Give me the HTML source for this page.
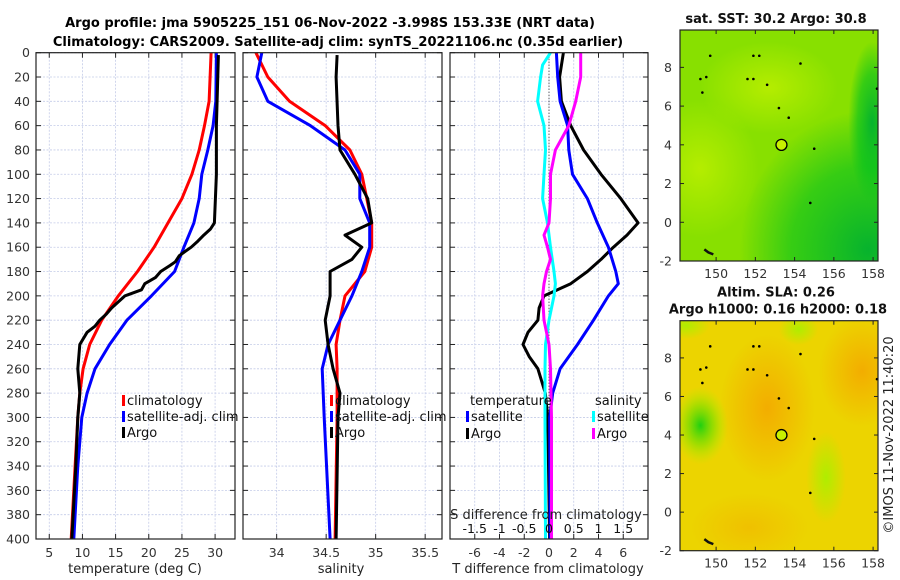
<!DOCTYPE html>
<html><head><meta charset="utf-8">
<style>
body{margin:0;background:#fff;}
svg{display:block;font-family:"DejaVu Sans","Liberation Sans",sans-serif;}
</style></head>
<body>
<svg id="fig" width="900" height="580" viewBox="0 0 900 580">
<defs>
<radialGradient id="gUL" cx="0.5" cy="0.5" r="0.5"><stop offset="0" stop-color="#c0f000" stop-opacity="0.8"/><stop offset="1" stop-color="#c0f000" stop-opacity="0"/></radialGradient>
<radialGradient id="gLR" cx="0.5" cy="0.5" r="0.5"><stop offset="0" stop-color="#00b030" stop-opacity="0.95"/><stop offset="0.6" stop-color="#00c020" stop-opacity="0.6"/><stop offset="1" stop-color="#00c020" stop-opacity="0"/></radialGradient>
<radialGradient id="gOr" cx="0.5" cy="0.5" r="0.5"><stop offset="0" stop-color="#f5a000" stop-opacity="0.75"/><stop offset="1" stop-color="#f5a000" stop-opacity="0"/></radialGradient>
<radialGradient id="gGr" cx="0.5" cy="0.5" r="0.5"><stop offset="0" stop-color="#20d010" stop-opacity="1"/><stop offset="0.5" stop-color="#80e000" stop-opacity="0.7"/><stop offset="1" stop-color="#b0f000" stop-opacity="0"/></radialGradient>
<radialGradient id="gLi" cx="0.5" cy="0.5" r="0.5"><stop offset="0" stop-color="#a8f000" stop-opacity="0.9"/><stop offset="1" stop-color="#a8f000" stop-opacity="0"/></radialGradient>
<clipPath id="clip-sst-map"><rect x="680" y="30" width="198" height="231"/></clipPath>
<clipPath id="clip-sla-map"><rect x="680" y="320.7" width="198" height="230"/></clipPath>
</defs>
<g id="titles" font-weight="bold" font-size="13" text-anchor="middle">
<text x="330" y="27">Argo profile: jma 5905225_151 06-Nov-2022 -3.998S 153.33E (NRT data)</text>
<text x="338" y="46">Climatology: CARS2009. Satellite-adj clim: synTS_20221106.nc (0.35d earlier)</text>
</g>
<g id="layer"></g>
<g id="maps"></g>
<text transform="translate(893,435) rotate(-90)" text-anchor="middle" font-size="13" fill="#222">©IMOS 11-Nov-2022 11:40:20</text>
</svg>
<script>
// ---- data ----
const depthsTclim = [0,40,60,80,100,120,140,160,180,200,220,240,260,280,300,340,400];
const tempClim    = [29.4,29.1,28.4,27.6,26.5,25,22.9,20.8,18.3,15.4,12.9,11.1,10.1,9.6,9.3,8.9,8.3];
const depthsTsat  = [0,40,60,80,100,120,140,160,180,200,220,240,260,280,300,340,400];
const tempSat     = [30.2,30.1,29.7,28.9,28,27.6,26.8,25.3,23.9,20.4,16.7,14.1,11.9,10.7,9.9,9.3,8.7];
const depthsTargo = [2,60,100,140,145,150,155,160,163,167,172,175,180,185,190,195,200,205,210,215,220,225,230,240,260,280,300,340,400];
const tempArgo    = [30.5,30.2,30.2,29.9,29.3,28.3,27.4,26.4,25.6,24.6,24.0,23.2,21.8,21.0,19.4,18.9,16.4,15.4,14.4,13.6,12.6,11.9,10.7,9.6,9.3,9.6,9.3,9,8.4];

const depthsS     = [0,20,40,60,80,100,120,140,160,180,200,220,240,260,300,400];
const salClim     = [33.79,33.91,34.13,34.49,34.74,34.86,34.91,34.96,34.96,34.89,34.69,34.64,34.6,34.61,34.61,34.59];
const salSat      = [33.85,33.8,33.91,34.34,34.69,34.84,34.84,34.94,34.94,34.86,34.76,34.64,34.52,34.46,34.48,34.54];
const depthsSargo = [2,20,60,80,100,120,140,150,160,170,180,200,220,240,260,280,300,400];
const salArgo     = [34.61,34.6,34.62,34.64,34.79,34.92,34.96,34.69,34.86,34.76,34.54,34.54,34.49,34.52,34.57,34.64,34.62,34.6];

const depthsDT    = [0,20,40,60,80,100,120,140,150,160,170,180,190,200,210,220,230,240,250,260,280,300,400];
const dTargo      = [1.16,0.86,1,1.75,2.8,4.2,5.8,7.2,6.3,5.2,4.2,3.1,1.75,-0.4,-0.8,-0.9,-1.7,-2.1,-1.6,-0.9,-0.3,-0.1,0.05];
const depthsDTs   = [0,20,40,60,80,100,120,140,160,180,190,200,220,240,260,280,300,400];
const dTsat       = [0.6,0.7,0.9,1.5,1.6,1.9,3.1,3.9,4.8,5.4,5.6,4.8,3.6,2.3,0.9,0.3,0.06,0.1];
const depthsDS    = [0,10,20,40,60,80,100,120,140,160,180,190,200,220,240,260,300,400];
const dSsat       = [0.03,-0.13,-0.17,-0.23,-0.1,-0.07,-0.1,-0.13,-0.03,0.03,0.1,0.13,0.1,0,-0.07,-0.08,-0.08,-0.07];
const depthsDSa   = [0,20,40,60,80,100,120,140,150,160,170,180,190,200,220,240,260,300,400];
const dSargo      = [0.64,0.64,0.54,0.4,0.13,0.03,0.03,0,-0.1,-0.03,0.03,-0.05,-0.1,-0.13,-0.1,0,0.03,0.05,0.05];

const depthTicks = [0,20,40,60,80,100,120,140,160,180,200,220,240,260,280,300,320,340,360,380,400];
const tTicks = [5,10,15,20,25,30];
const sTicks = [34,34.5,35,35.5];
const dTTicks = [-6,-4,-2,0,2,4,6];
const dSTicks = [-1.5,-1,-0.5,0,0.5,1,1.5];
const lonTicks = [150,152,154,156,158];
const latTicks = [-2,0,2,4,6,8];
const argoPos = [153.33,3.998];

// ---- helpers ----
const NS="http://www.w3.org/2000/svg";
const layer=document.getElementById('layer');
function mk(tag,attrs,parent){const e=document.createElementNS(NS,tag);for(const k in attrs)e.setAttribute(k,attrs[k]);(parent||layer).appendChild(e);return e;}
const Y0=52.7,Y1=539;
const yD=d=>Y0+(d/400)*(Y1-Y0);

function panel(name,x0,x1,vmin,vmax,ticks,showY){
  const sx=v=>x0+(v-vmin)/(vmax-vmin)*(x1-x0);
  const g=mk('g',{});
  
  
  depthTicks.forEach(d=>{
    const l=mk('line',{x1:x0,x2:x1,y1:yD(d),y2:yD(d),stroke:'#c4cbe8','stroke-width':0.8,'stroke-dasharray':'2,1.5'},g);
    
    
    mk('line',{x1:x0,x2:x0+5,y1:yD(d),y2:yD(d),stroke:'#222'},g);
    mk('line',{x1:x1,x2:x1-5,y1:yD(d),y2:yD(d),stroke:'#222'},g);
    if(showY){const t=mk('text',{x:x0-6,y:yD(d)+4.5,'text-anchor':'end','font-size':12.5,fill:'#333'},g);t.textContent=d;
      
      }
  });
  ticks.forEach(v=>{
    const l=mk('line',{x1:sx(v),x2:sx(v),y1:Y0,y2:Y1,stroke:'#c4cbe8','stroke-width':0.8,'stroke-dasharray':'2,1.5'},g);
    
    
    mk('line',{x1:sx(v),x2:sx(v),y1:Y1,y2:Y1-5,stroke:'#222'},g);
    mk('line',{x1:sx(v),x2:sx(v),y1:Y0,y2:Y0+5,stroke:'#222'},g);
  });
  return {g,sx};
}
function axisLabels(p,ticks,y,fmt){
  ticks.forEach(v=>{const t=mk('text',{x:p.sx(v),y:y,'text-anchor':'middle','font-size':12.5,fill:'#333'},p.g);t.textContent=fmt?fmt(v):v;
    
    });
}
function line(p,depths,vals,color,name){
  const pts=depths.map((d,i)=>p.sx(vals[i]).toFixed(1)+','+yD(d).toFixed(1)).join(' ');
  const l=mk('polyline',{points:pts,fill:'none',stroke:color,'stroke-width':3,'stroke-linejoin':'round'},p.g);
  
  
}
function frame(p,x0,x1){mk('rect',{x:x0,y:Y0,width:x1-x0,height:Y1-Y0,fill:'none',stroke:'#222','stroke-width':1.2},p.g);}
function legend(p,x,y,color,label){
  mk('rect',{x:x,y:y-10,width:3,height:11,fill:color},p.g);
  const t=mk('text',{x:x+5,y:y,'font-size':13,fill:'#111'},p.g);t.textContent=label;
  
  
}
function title(x,y,s,name){const t=mk('text',{x:x,y:y,'text-anchor':'middle','font-size':13,fill:'#222'});t.textContent=s;
  
  }

// Panel 1 temperature
const p1=panel('temperature-panel',36,235,3,33,tTicks,true);
line(p1,depthsTclim,tempClim,'#ff0000','temp-climatology-line');
line(p1,depthsTsat,tempSat,'#0000ff','temp-satellite-line');
line(p1,depthsTargo,tempArgo,'#000000','temp-argo-line');
frame(p1,36,235);
axisLabels(p1,tTicks,557);
title(135,573,'temperature (deg C)','temperature-axis-title');
legend(p1,122,405,'#ff0000','climatology');
legend(p1,122,421,'#0000ff','satellite-adj. clim');
legend(p1,122,437,'#000000','Argo');

// Panel 2 salinity
const p2=panel('salinity-panel',243,442,33.66,35.67,sTicks,false);
line(p2,depthsS,salClim,'#ff0000','sal-climatology-line');
line(p2,depthsS,salSat,'#0000ff','sal-satellite-line');
line(p2,depthsSargo,salArgo,'#000000','sal-argo-line');
frame(p2,243,442);
axisLabels(p2,sTicks,557);
title(341,573,'salinity','salinity-axis-title');
legend(p2,330,405,'#ff0000','climatology');
legend(p2,330,421,'#0000ff','satellite-adj. clim');
legend(p2,330,437,'#000000','Argo');

// Panel 3 differences
const p3=panel('difference-panel',450,648,-8,8,dTTicks,false);
const sxS=v=>p3.sx(v*4);
const zl=mk('line',{x1:p3.sx(0),x2:p3.sx(0),y1:Y0,y2:Y1,stroke:'#333','stroke-width':1,'stroke-dasharray':'1,2'},p3.g);


line(p3,depthsDT,dTargo,'#000000','dt-argo-line');
line(p3,depthsDTs,dTsat,'#0000ff','dt-satellite-line');
line(p3,depthsDS,dSsat.map(v=>v*4),'#00ffff','ds-satellite-line');
line(p3,depthsDSa,dSargo.map(v=>v*4),'#ff00ff','ds-argo-line');
frame(p3,450,648);
axisLabels(p3,dTTicks,557);
dSTicks.forEach(v=>{const t=mk('text',{x:sxS(v),y:533,'text-anchor':'middle','font-size':12.5,fill:'#111'},p3.g);t.textContent=v;
  
  });
title(546,519,'S difference from climatology','s-diff-axis-title');
title(548,573,'T difference from climatology','t-diff-axis-title');
{const t=mk('text',{x:470,y:405,'font-size':13,fill:'#111'},p3.g);t.textContent='temperature';
 
 
 const s=mk('text',{x:595,y:405,'font-size':13,fill:'#111'},p3.g);s.textContent='salinity';
 
 }
legend(p3,466,421,'#0000ff','satellite');
legend(p3,466,438,'#000000','Argo');
legend(p3,592,421,'#00ffff','satellite');
legend(p3,592,438,'#ff00ff','Argo');

// ---- maps ----
const maps=document.getElementById('maps');
function map(name,x0,y0,x1,y1,kind,t1){
  const g=mk('g',{},maps);
  
  
  const lx=v=>x0+(v-148.16)/(158.25-148.16)*(x1-x0);
  const ly=v=>y1-(v+2)/(9.93+2)*(y1-y0);
  const W=x1-x0,H=y1-y0;
  const cg=mk('g',{'clip-path':'url(#clip-'+name+')'},g);
  if(kind==='sst'){
    mk('rect',{x:x0,y:y0,width:W,height:H,fill:'#88e000'},cg);
    mk('ellipse',{cx:x0+W*0.1,cy:y0+H*0.6,rx:W*0.3,ry:H*0.3,fill:'url(#gUL)'},cg);
    mk('ellipse',{cx:x0+W*0.45,cy:y0+H*0.25,rx:W*0.35,ry:H*0.2,fill:'url(#gUL)'},cg);
    mk('ellipse',{cx:x0+W*0.95,cy:y0+H*0.95,rx:W*0.65,ry:H*0.6,fill:'url(#gLR)'},cg);
    mk('ellipse',{cx:x0+W*0.97,cy:y0+H*0.4,rx:W*0.12,ry:H*0.35,fill:'url(#gLR)'},cg);
  } else {
    mk('rect',{x:x0,y:y0,width:W,height:H,fill:'#ecd400'},cg);
    mk('ellipse',{cx:x0+W*0.44,cy:y0+H*0.38,rx:W*0.24,ry:H*0.32,fill:'url(#gOr)'},cg);
    mk('ellipse',{cx:x0+W*0.92,cy:y0+H*0.22,rx:W*0.22,ry:H*0.24,fill:'url(#gOr)'},cg);
    mk('ellipse',{cx:x0+W*0.35,cy:y0+H*0.9,rx:W*0.3,ry:H*0.15,fill:'url(#gOr)',opacity:0.5},cg);
    mk('ellipse',{cx:lx(149.2),cy:ly(4.5),rx:W*0.14,ry:H*0.17,fill:'url(#gGr)'},cg);
    mk('ellipse',{cx:lx(155.6),cy:ly(1.8),rx:W*0.1,ry:H*0.2,fill:'url(#gLi)'},cg);
    mk('ellipse',{cx:lx(154.2),cy:ly(9.5),rx:W*0.1,ry:H*0.07,fill:'url(#gLi)'},cg);
    mk('ellipse',{cx:x0+W*0.03,cy:y0+H*0.02,rx:W*0.12,ry:H*0.06,fill:'url(#gLi)'},cg);
  }
  [[149.7,8.6],[151.9,8.6],[152.2,8.6],[154.3,8.2],[149.2,7.4],[149.5,7.5],[151.6,7.4],[151.9,7.4],[152.6,7.1],[149.3,6.7],[153.2,5.9],[153.7,5.4],[155,3.8],[154.8,1.0],[158.2,6.9]].forEach(p=>{
    mk('circle',{cx:lx(p[0]),cy:ly(p[1]),r:1.3,fill:'#000'},g);});
  mk('path',{d:`M${lx(149.4)},${ly(-1.4)} l4,3 l5,2`,stroke:'#111','stroke-width':2.5,fill:'none'},g);
  const c=mk('circle',{cx:lx(argoPos[0]),cy:ly(argoPos[1]),r:5.5,fill:'#c8f000',stroke:'#000','stroke-width':1.3},g);
  
  
  mk('rect',{x:x0,y:y0,width:W,height:H,fill:'none',stroke:'#222','stroke-width':1.2},g);
  lonTicks.forEach(v=>{mk('line',{x1:lx(v),x2:lx(v),y1:y1,y2:y1-4,stroke:'#222'},g);mk('line',{x1:lx(v),x2:lx(v),y1:y0,y2:y0+4,stroke:'#222'},g);
    const t=mk('text',{x:lx(v),y:y1+17,'text-anchor':'middle','font-size':12.5,fill:'#333'},g);t.textContent=v;
    
    });
  latTicks.forEach(v=>{mk('line',{x1:x0,x2:x0+4,y1:ly(v),y2:ly(v),stroke:'#222'},g);mk('line',{x1:x1,x2:x1-4,y1:ly(v),y2:ly(v),stroke:'#222'},g);
    const t=mk('text',{x:x0-8,y:ly(v)+4.5,'text-anchor':'end','font-size':12.5,fill:'#333'},g);t.textContent=v;
    
    });
  t1.forEach((s,i)=>{const t=mk('text',{x:(x0+x1)/2+(i?-1:-3),y:(i?y0-7:y0-7-(t1.length-1)*17),'text-anchor':'middle','font-size':13,'font-weight':'bold',fill:'#111'},g);t.textContent=s;
    
    });
}
map('sst-map',680,30,878,261,'sst',['sat. SST: 30.2 Argo: 30.8']);
map('sla-map',680,320.7,878,550.7,'sla',['Altim. SLA: 0.26','Argo h1000: 0.16 h2000: 0.18']);
</script>
</body></html>
